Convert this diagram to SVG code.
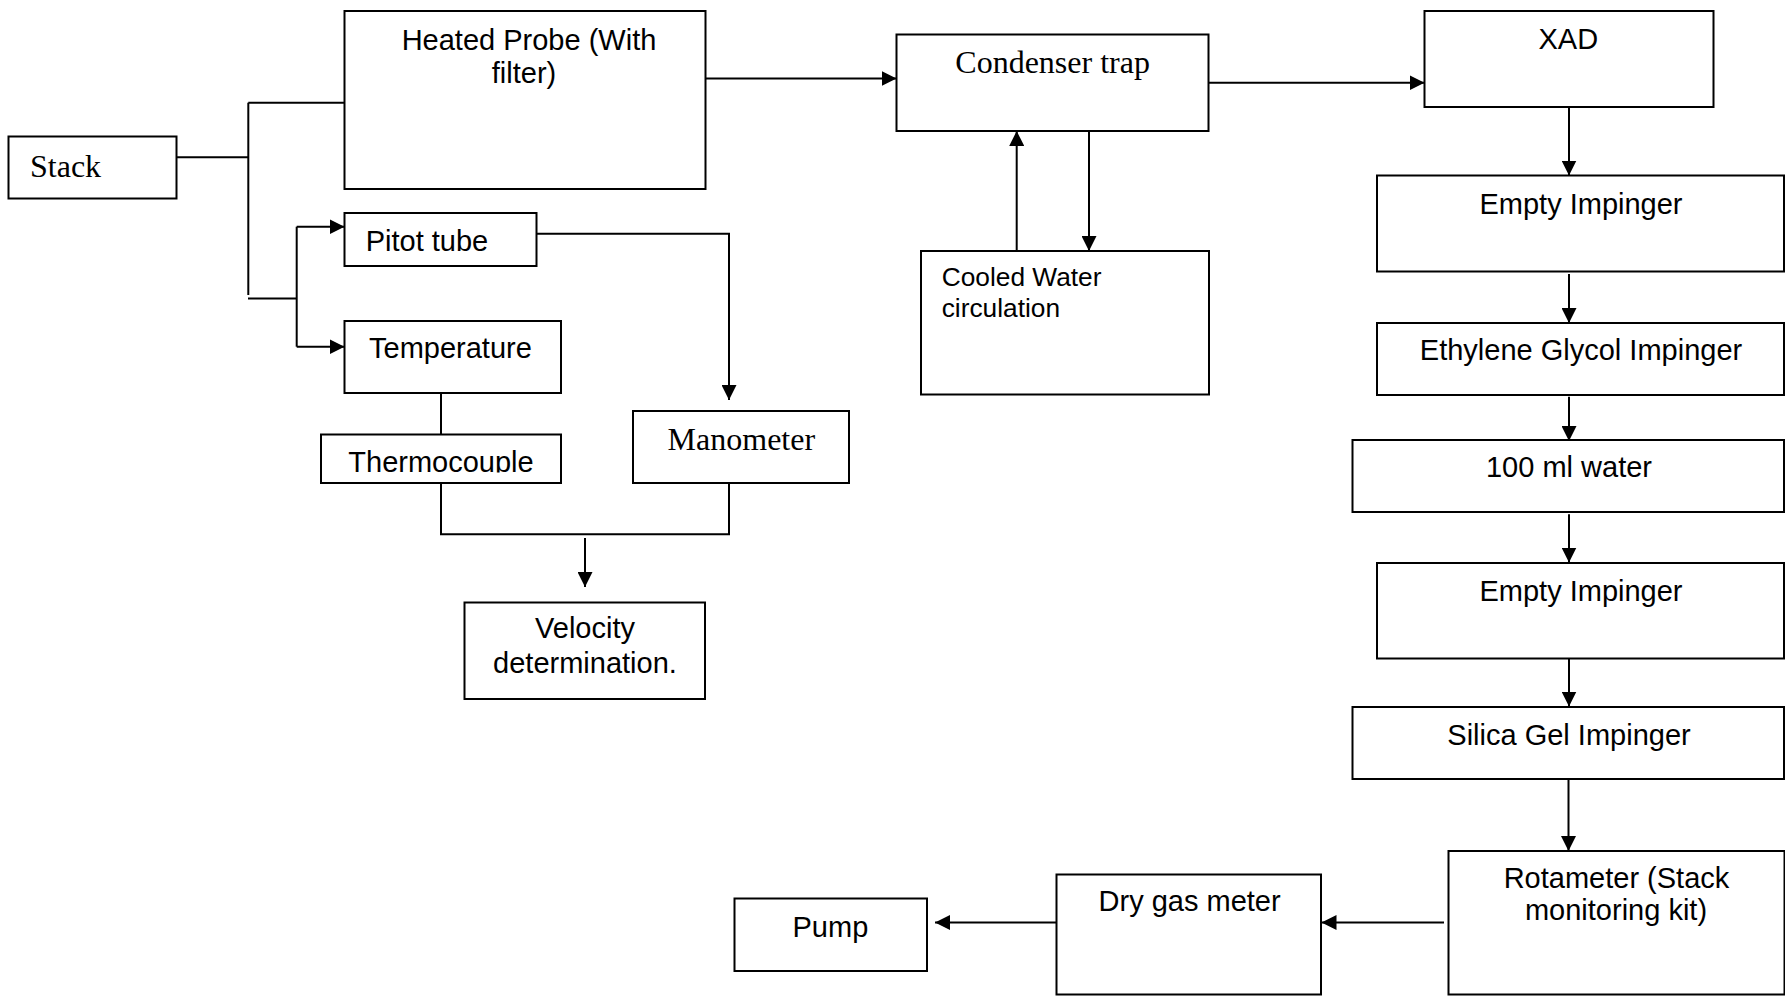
<svg xmlns="http://www.w3.org/2000/svg" width="1785" height="996" viewBox="0 0 1785 996">
<style>
.box{fill:#fff;stroke:#000;stroke-width:2}
.ln{fill:none;stroke:#000;stroke-width:2}
.arr{fill:none;stroke:#000;stroke-width:2;marker-end:url(#ah)}
.a{font-family:"Liberation Sans",Arial,sans-serif;font-size:29px;fill:#000}
.s{font-size:26.3px}
.t{font-family:"Liberation Serif","Times New Roman",serif;font-size:32px;fill:#000}
.m{text-anchor:middle}
</style>
<defs>
<marker id="ah" markerUnits="userSpaceOnUse" markerWidth="15" markerHeight="15" refX="15" refY="7.5" orient="auto">
<path d="M0,0 L15,7.5 L0,15 z" fill="#000"/>
</marker>
<clipPath id="tcclip"><rect x="321" y="434" width="240" height="38.5"/></clipPath>
</defs>
<rect width="1785" height="996" fill="#fff"/>
<g id="connectors">
<path class="ln" d="M177,157.3 H248.3"/>
<path class="ln" d="M248.3,102.7 V295"/>
<path class="ln" d="M248.3,102.7 H344.4"/>
<path class="ln" d="M248,298.5 H296.7"/>
<path class="ln" d="M296.7,226.7 V346.7"/>
<path class="arr" d="M296.7,226.7 H344.5"/>
<path class="arr" d="M296.7,346.7 H344.5"/>
<path class="arr" d="M536.7,233.7 H729 V400"/>
<path class="ln" d="M441,393 V434.5"/>
<path class="ln" d="M441,483 V534.3 H729 V483"/>
<path class="arr" d="M585,538 V587"/>
<path class="arr" d="M705,78.5 H896.5"/>
<path class="arr" d="M1208.7,82.7 H1424.5"/>
<path class="arr" d="M1016.7,251 V131"/>
<path class="arr" d="M1089,131 V251"/>
<path class="arr" d="M1569,106.7 V175.5"/>
<path class="arr" d="M1569,274 V323"/>
<path class="arr" d="M1569,396.7 V441"/>
<path class="arr" d="M1569,514.3 V562.5"/>
<path class="arr" d="M1569,658.3 V706.5"/>
<path class="arr" d="M1568.5,778.7 V851"/>
<path class="arr" d="M1444,922.5 H1321.5"/>
<path class="arr" d="M1056.4,922.5 H935"/>
</g>
<g id="stack"><rect class="box" x="8.5" y="136.5" width="168" height="62"/><text class="t" x="30" y="176.7">Stack</text></g>
<g id="heated-probe"><rect class="box" x="344.5" y="11" width="361" height="178"/><text class="a m" x="529" y="49.5">Heated Probe (With</text><text class="a m" x="524" y="82.5">filter)</text></g>
<g id="pitot-tube"><rect class="box" x="344.5" y="213" width="192" height="53"/><text class="a" x="365.7" y="250.7">Pitot tube</text></g>
<g id="temperature"><rect class="box" x="344.5" y="321" width="216.5" height="72"/><text class="a" x="369" y="358">Temperature</text></g>
<g id="thermocouple"><rect class="box" x="321" y="434.5" width="240" height="48.5"/><text class="a" x="348.3" y="472" clip-path="url(#tcclip)">Thermocouple</text></g>
<g id="manometer"><rect class="box" x="633" y="411" width="216" height="72"/><text class="t" x="667.6" y="450">Manometer</text></g>
<g id="velocity"><rect class="box" x="464.5" y="602.5" width="240.5" height="96.5"/><text class="a m" x="585" y="638">Velocity</text><text class="a m" x="585" y="672.7">determination.</text></g>
<g id="condenser-trap"><rect class="box" x="896.5" y="34.5" width="312" height="96.5"/><text class="t m" x="1052.6" y="73.3">Condenser trap</text></g>
<g id="cooled-water"><rect class="box" x="921" y="251" width="288" height="143.5"/><text class="a s" x="941.7" y="285.5">Cooled Water</text><text class="a s" x="941.7" y="317">circulation</text></g>
<g id="xad"><rect class="box" x="1424.5" y="11" width="289" height="96"/><text class="a m" x="1568.3" y="48.5">XAD</text></g>
<g id="empty-impinger-1"><rect class="box" x="1377" y="175.5" width="407" height="96"/><text class="a m" x="1581" y="213.5">Empty Impinger</text></g>
<g id="ethylene-glycol"><rect class="box" x="1377" y="323" width="407" height="72"/><text class="a m" x="1581" y="360">Ethylene Glycol Impinger</text></g>
<g id="water-100ml"><rect class="box" x="1352.5" y="440" width="431.5" height="72"/><text class="a m" x="1569" y="476.7">100 ml water</text></g>
<g id="empty-impinger-2"><rect class="box" x="1377" y="563" width="407" height="95.5"/><text class="a m" x="1581" y="600.7">Empty Impinger</text></g>
<g id="silica-gel"><rect class="box" x="1352.5" y="707" width="431.5" height="72"/><text class="a m" x="1569" y="745">Silica Gel Impinger</text></g>
<g id="rotameter"><rect class="box" x="1448.5" y="851" width="336" height="143.5"/><text class="a m" x="1616.5" y="888.3">Rotameter (Stack</text><text class="a m" x="1616" y="920">monitoring kit)</text></g>
<g id="dry-gas-meter"><rect class="box" x="1056.5" y="874.5" width="264.5" height="120"/><text class="a m" x="1189.6" y="911">Dry gas meter</text></g>
<g id="pump"><rect class="box" x="734.5" y="898.5" width="192.5" height="72.5"/><text class="a m" x="830.4" y="936.7">Pump</text></g>
</svg>
